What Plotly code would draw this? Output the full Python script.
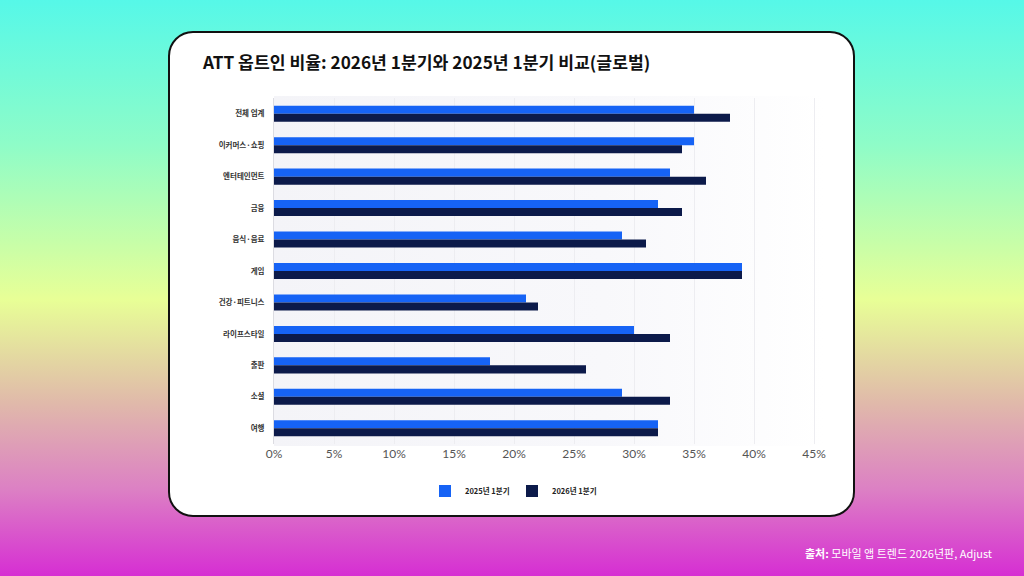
import base64
import plotly.graph_objects as go

categories = ["전체 업계", "이커머스·쇼핑", "엔터테인먼트", "금융", "음식·음료", "게임",
              "건강·피트니스", "라이프스타일", "출판", "소셜", "여행"]
q1_2025 = [35, 35, 33, 32, 29, 39, 21, 30, 18, 29, 32]
q1_2026 = [38, 34, 36, 34, 31, 39, 22, 33, 26, 33, 32]
tick_vals = [0, 5, 10, 15, 20, 25, 30, 35, 40, 45]
tick_text = ["0%", "5%", "10%", "15%", "20%", "25%", "30%", "35%", "40%", "45%"]

W, H = 1024, 576

# background: vertical gradient page, white rounded card, faint band behind bars
svg = f"""<svg xmlns="http://www.w3.org/2000/svg" width="{W}" height="{H}" viewBox="0 0 {W} {H}" preserveAspectRatio="none">
<defs>
<linearGradient id="bg" x1="0" y1="0" x2="0" y2="1">
<stop offset="0" stop-color="#56f8e8"/>
<stop offset="0.25" stop-color="#8efcc8"/>
<stop offset="0.52" stop-color="#e8ff96"/>
<stop offset="0.7" stop-color="#e0b9aa"/>
<stop offset="0.85" stop-color="#dc80c4"/>
<stop offset="1" stop-color="#d62ed3"/>
</linearGradient>
<linearGradient id="band" x1="0" y1="0" x2="1" y2="0">
<stop offset="0" stop-color="#f4f4f8"/>
<stop offset="0.6" stop-color="#f8f8fb"/>
<stop offset="1" stop-color="#ffffff"/>
</linearGradient>
</defs>
<rect x="0" y="0" width="{W}" height="{H}" fill="url(#bg)"/>
<rect x="169" y="32" width="685" height="484" rx="24" ry="24" fill="#ffffff" stroke="#111111" stroke-width="2"/>
<rect x="274" y="96" width="550" height="350" fill="url(#band)"/>
</svg>"""
bg_src = "data:image/svg+xml;base64," + base64.b64encode(svg.encode("utf-8")).decode("ascii")

fig = go.Figure()
fig.add_trace(go.Bar(y=categories, x=q1_2025, orientation="h", name="2025년 1분기",
                     marker=dict(color="#1663f5", line=dict(width=0))))
fig.add_trace(go.Bar(y=categories, x=q1_2026, orientation="h", name="2026년 1분기",
                     marker=dict(color="#0c1a4a", line=dict(width=0))))

fig.update_layout(
    autosize=False,
    width=W, height=H,
    margin=dict(l=0, r=0, t=0, b=0, pad=0, autoexpand=False),
    paper_bgcolor="#ffffff",
    plot_bgcolor="rgba(0,0,0,0)",
    barmode="group",
    bargap=0.49,
    bargroupgap=0,
    images=[dict(source=bg_src, xref="paper", yref="paper", x=0, y=1, sizex=1, sizey=1,
                 sizing="stretch", xanchor="left", yanchor="top", layer="below")],
    xaxis=dict(domain=[274 / W, 820 / W], range=[0, 45.5], tickvals=tick_vals, ticktext=tick_text,
               showgrid=True, gridcolor="#ededf1", gridwidth=1, zeroline=False,
               showline=False, ticks="", ticklabelstandoff=1,
               tickfont=dict(family="Lato, Noto Sans, sans-serif", size=12, color="#555555")),
    yaxis=dict(domain=[1 - 444 / H, 1 - 98 / H], autorange="reversed",
               showgrid=False, zeroline=False, showline=True, linecolor="#dcdce2", linewidth=1,
               ticks="", ticklabelstandoff=7,
               tickfont=dict(family="Noto Sans CJK KR", size=7.5, color="#333333", weight="bold")),
    legend=dict(orientation="h", x=0.5, xanchor="center", y=1 - 491 / H, yanchor="middle",
                bgcolor="rgba(0,0,0,0)", itemwidth=30, entrywidth=42, entrywidthmode="pixels",
                font=dict(family="Noto Sans CJK KR", size=7.5, color="#222222", weight="bold")),
    showlegend=True,
    font=dict(family="Noto Sans CJK KR"),
)

fig.add_annotation(text="<b>ATT 옵트인 비율: 2026년 1분기와 2025년 1분기 비교(글로벌)</b>",
                   xref="paper", yref="paper", x=200 / W, y=1 - 61 / H,
                   xanchor="left", yanchor="middle", showarrow=False,
                   font=dict(family="Noto Sans CJK KR", size=17.2, color="#111111"))
fig.add_annotation(text="<b>출처:</b> 모바일 앱 트렌드 2026년판, Adjust",
                   xref="paper", yref="paper", x=994 / W, y=1 - 553 / H,
                   xanchor="right", yanchor="middle", showarrow=False,
                   font=dict(family="Noto Sans CJK KR", size=11, color="#ffffff"))

pin = ("var s=document.createElement('style');"
       "s.innerHTML='html,body{margin:0;padding:0;overflow:hidden;}';"
       "document.head.appendChild(s);")
fig.write_html("out.html", config={"displayModeBar": False, "responsive": False}, post_script=pin)
